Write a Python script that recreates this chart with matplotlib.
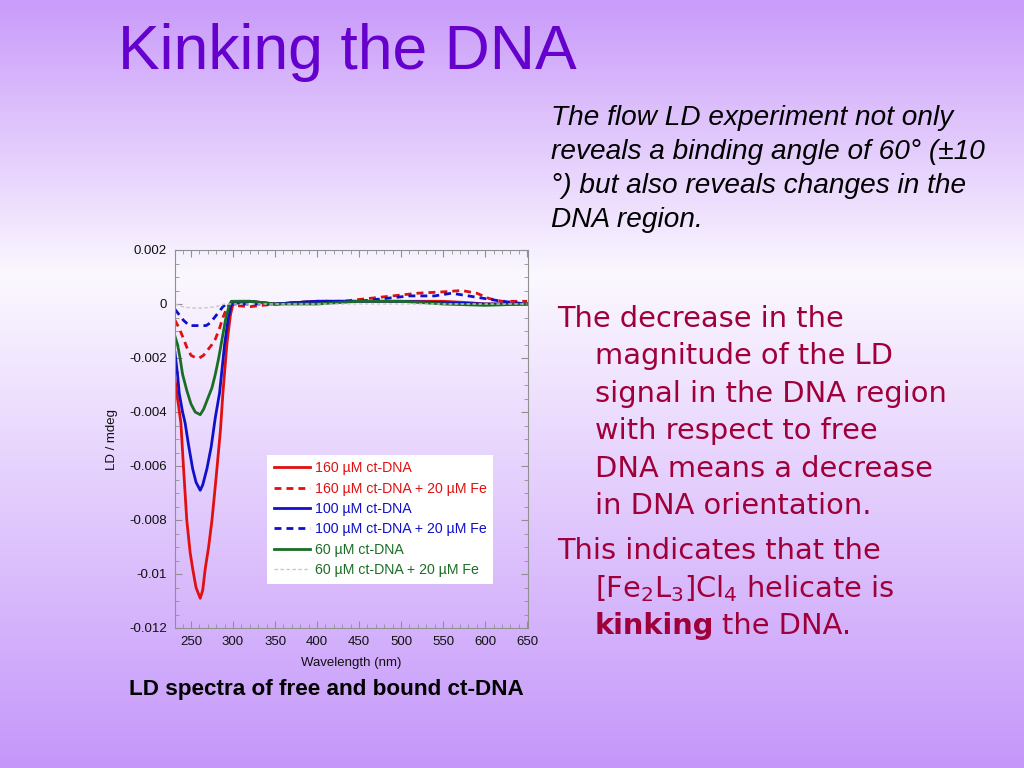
import numpy as np
import matplotlib
matplotlib.use("Agg")
import matplotlib.pyplot as plt
from matplotlib.colors import LinearSegmentedColormap
from matplotlib.ticker import MultipleLocator

plt.rcParams['font.family'] = ['Liberation Sans', 'DejaVu Sans']
plt.rcParams['mathtext.fontset'] = 'dejavusans'

# LD spectra (wavelength nm, LD)
wl_160 = [231, 234, 238, 241, 245, 249, 252, 256, 261, 264, 267, 271, 275, 280, 285, 288, 293, 297,
          300, 305, 320, 350, 400, 450, 500, 550, 580, 600, 650]
ld_160 = [-0.0028, -0.0035, -0.0044, -0.0060, -0.0080, -0.0092, -0.0098, -0.0105, -0.0109, -0.0106,
          -0.0098, -0.0090, -0.0080, -0.0064, -0.0047, -0.0033, -0.0014, -0.0004,
          0.0, 0.0001, 0.0001, 0.0, 0.0001, 0.0001, 0.0001, 0.0001, 0.00005, 0.0, 0.0]

wl_160fe = [231, 236, 240, 245, 250, 256, 260, 265, 270, 275, 279, 284, 288, 292, 296, 300, 320, 350,
            400, 430, 460, 490, 520, 550, 572, 590, 605, 620, 650]
ld_160fe = [-0.0006, -0.0009, -0.0012, -0.0016, -0.0019, -0.0020, -0.0020, -0.0019, -0.0017, -0.0015,
            -0.0013, -0.0009, -0.0005, -0.0002, 0.0, -0.00005, -0.0001, 0.0,
            0.0001, 0.0001, 0.0002, 0.0003, 0.0004, 0.00045, 0.0005, 0.0004, 0.0002, 0.0001, 0.0001]

wl_100 = [231, 234, 236, 240, 243, 247, 252, 256, 261, 264, 269, 274, 279, 284, 290, 294, 298,
          320, 350, 400, 450, 500, 550, 600, 650]
ld_100 = [-0.0018, -0.0026, -0.0033, -0.0040, -0.0044, -0.0052, -0.0061, -0.0066, -0.0069, -0.0067,
          -0.0061, -0.0053, -0.0042, -0.0033, -0.0015, -0.0006, 0.0,
          0.0001, 0.0, 0.0001, 0.0001, 0.0001, 0.00005, 0.0, 0.0]

wl_100fe = [231, 236, 241, 248, 255, 262, 268, 273, 278, 283, 288, 292, 320, 350, 400, 450, 480,
            510, 540, 560, 580, 600, 620, 650]
ld_100fe = [-0.0002, -0.0004, -0.0006, -0.0008, -0.0008, -0.0008, -0.0008, -0.0007, -0.0005, -0.0003,
            -0.0001, 0.0, 0.0, 0.0, 0.0001, 0.0001, 0.0002, 0.0003, 0.0003, 0.0004, 0.0003, 0.0002,
            0.0001, 0.0]

wl_60 = [231, 234, 237, 240, 245, 250, 255, 261, 265, 270, 275, 279, 283, 287, 291, 295, 298,
         320, 350, 400, 450, 500, 550, 600, 650]
ld_60 = [-0.0012, -0.0015, -0.0020, -0.0026, -0.0032, -0.0037, -0.0040, -0.0041, -0.0039, -0.0035,
         -0.0031, -0.0026, -0.0020, -0.0013, -0.0006, -0.0001, 0.0001,
         0.0001, 0.0, 0.0, 0.0001, 0.0001, 0.0, -0.00005, 0.0]

wl_60fe = [231, 240, 250, 265, 280, 290, 650]
ld_60fe = [0.0, -0.0001, -0.00015, -0.00015, -0.0001, 0.0, 0.0]

dash = (0, (2.5, 1.8))
series = [
    (wl_160, ld_160, '160 µM ct-DNA', '#e01010', '-', 2.0),
    (wl_160fe, ld_160fe, '160 µM ct-DNA + 20 µM Fe', '#e01010', dash, 2.0),
    (wl_100, ld_100, '100 µM ct-DNA', '#1010c8', '-', 2.0),
    (wl_100fe, ld_100fe, '100 µM ct-DNA + 20 µM Fe', '#1010c8', dash, 2.0),
    (wl_60, ld_60, '60 µM ct-DNA', '#1a6e24', '-', 2.0),
    (wl_60fe, ld_60fe, '60 µM ct-DNA + 20 µM Fe', '#c8c8c8', dash, 1.0),
]
label_colors = ['#e01010', '#e01010', '#1010c8', '#1010c8', '#1a6e24', '#1a6e24']

fig = plt.figure(figsize=(10.24, 7.68), dpi=100)

# slide background gradient
bg = fig.add_axes([0, 0, 1, 1], zorder=-10)
cmap = LinearSegmentedColormap.from_list('slide', [(0.0, '#c99bfa'), (0.36, '#fbf8ff'), (1.0, '#c597fa')])
bg.imshow(np.linspace(0, 1, 256).reshape(-1, 1), aspect='auto', cmap=cmap, extent=[0, 1, 0, 1])
bg.axis('off')

ax = fig.add_axes([175 / 1024, 1 - 628 / 768, 353 / 1024, 378 / 768])
ax.patch.set_alpha(0)
for x, y, lab, col, ls, lw in series:
    ax.plot(x, y, color=col, linestyle=ls, linewidth=lw, label=lab)

ax.set_xlim(231, 651)
ax.set_ylim(-0.012, 0.002)
ax.set_xticks(np.arange(250, 651, 50))
ax.set_yticks([0.002, 0, -0.002, -0.004, -0.006, -0.008, -0.01, -0.012])
ax.set_yticklabels(['0.002', '0', '-0.002', '-0.004', '-0.006', '-0.008', '-0.01', '-0.012'])
ax.xaxis.set_minor_locator(MultipleLocator(10))
ax.yaxis.set_minor_locator(MultipleLocator(0.0005))
ax.tick_params(which='both', direction='in', top=True, right=True, color='#909090',
               labelsize=9.5, labelcolor='#111111')
ax.tick_params(which='major', length=5, width=0.8, pad=6)
ax.tick_params(which='minor', length=3, width=0.6)
for s in ax.spines.values():
    s.set_color('#909090')
    s.set_linewidth(0.8)
ax.set_xlabel('Wavelength (nm)', fontsize=9.5, color='#111111', labelpad=6)
ax.set_ylabel('LD / mdeg', fontsize=9.5, color='#111111', labelpad=8)

leg = ax.legend(loc='upper left', bbox_to_anchor=(0.261, 0.458), borderaxespad=0, fontsize=10.2,
                frameon=True, fancybox=False, edgecolor='none', facecolor='white', framealpha=1,
                handlelength=2.6, handletextpad=0.3, labelspacing=0.45, borderpad=0.45,
                labelcolor=label_colors)

# slide texts
fig.text(118 / 1024, 1 - 52 / 768, 'Kinking the DNA', fontsize=45, color='#6600cc', va='center', ha='left')

intro = ['The flow LD experiment not only',
         'reveals a binding angle of 60° (±10',
         '°) but also reveals changes in the',
         'DNA region.']
for i, line in enumerate(intro):
    fig.text(551 / 1024, 1 - (118 + 34 * i) / 768, line, fontsize=20.2, style='italic',
             color='black', va='center', ha='left')

red = '#a0003a'
body = [(557, 'The decrease in the'),
        (595, 'magnitude of the LD'),
        (595, 'signal in the DNA region'),
        (595, 'with respect to free'),
        (595, 'DNA means a decrease'),
        (595, 'in DNA orientation.'),
        (557, 'This indicates that the'),
        (595, '[Fe$_2$L$_3$]Cl$_4$ helicate is')]
ys = [319, 356, 394, 431, 469, 506, 551, 589]
for (x, line), y in zip(body, ys):
    fig.text(x / 1024, 1 - y / 768, line, fontsize=20.8, color=red, va='center', ha='left',
             family='DejaVu Sans')
t = fig.text(595 / 1024, 1 - 626 / 768, 'kinking', fontsize=20.8, color=red, va='center', ha='left',
             family='DejaVu Sans', weight='bold')
fig.canvas.draw()
bb = t.get_window_extent()
fig.text((bb.x1 + 8) / 1024, 1 - 626 / 768, 'the DNA.', fontsize=20.8, color=red, va='center',
         ha='left', family='DejaVu Sans')

fig.text(326 / 1024, 1 - 690 / 768, 'LD spectra of free and bound ct-DNA', fontsize=16.2,
         weight='bold', color='black', va='center', ha='center')

fig.savefig('out.png', dpi=100)
